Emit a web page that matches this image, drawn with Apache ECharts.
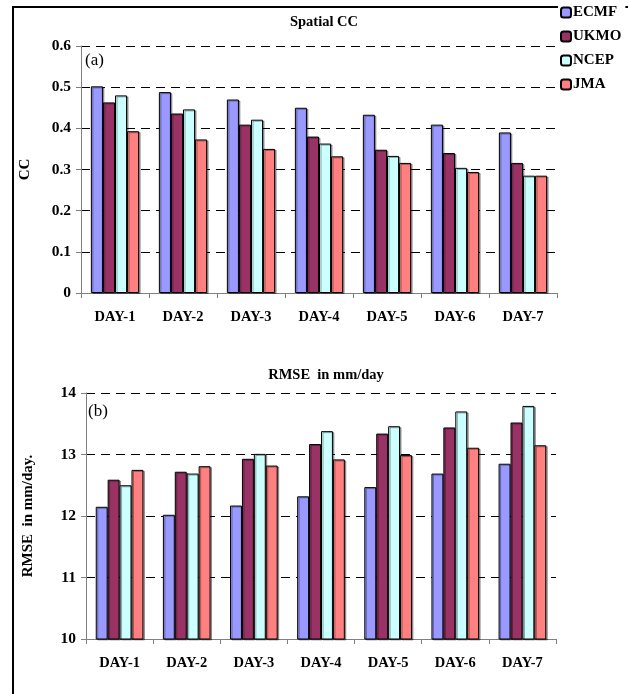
<!DOCTYPE html>
<html><head><meta charset="utf-8">
<script src="https://cdn.jsdelivr.net/npm/echarts@6/dist/echarts.min.js"></script>
<style>html,body{margin:0;padding:0;background:#fff}#c{width:628px;height:694px}</style>
</head><body><div id="c"></div>
<script>
const categories = ['DAY-1','DAY-2','DAY-3','DAY-4','DAY-5','DAY-6','DAY-7'];
const models = ['ECMF','UKMO','NCEP','JMA'];
const colors = ['#9999FF','#993366','#CCFFFF','#FF8080'];
const ccECMF = [0.502,0.488,0.470,0.450,0.433,0.409,0.390];
const ccUKMO = [0.463,0.436,0.409,0.380,0.348,0.340,0.316];
const ccNCEP = [0.480,0.446,0.421,0.363,0.333,0.304,0.285];
const ccJMA  = [0.393,0.373,0.350,0.332,0.316,0.294,0.285];
const rmseECMF = [12.15,12.02,12.17,12.32,12.47,12.69,12.85];
const rmseUKMO = [12.59,12.72,12.93,13.17,13.34,13.44,13.52];
const rmseNCEP = [12.50,12.69,13.01,13.38,13.46,13.70,13.79];
const rmseJMA  = [12.75,12.81,12.82,12.92,12.99,13.11,13.15];
const ccSets = [ccECMF, ccUKMO, ccNCEP, ccJMA];
const rmseSets = [rmseECMF, rmseUKMO, rmseNCEP, rmseJMA];

const FONT = '"Liberation Serif", "Times New Roman", serif';
const chart = echarts.init(document.getElementById('c'));

function xAxis(gi){
  return {type:'category', gridIndex:gi, data:categories, boundaryGap:true,
    axisLine:{lineStyle:{color:'#808080', width:1}},
    axisTick:{show:true, length:5, lineStyle:{color:'#808080'}},
    axisLabel:{color:'#000', fontFamily:FONT, fontWeight:'bold', fontSize:14.5, margin:17}};
}
function yAxis(gi, min, max, interval, name, gap, fmt){
  return {type:'value', gridIndex:gi, min, max, interval, name, nameLocation:'middle', nameGap:gap,
    nameTextStyle:{color:'#000', fontFamily:FONT, fontWeight:'bold', fontSize:15},
    axisLine:{show:true, lineStyle:{color:'#808080', width:1}},
    axisTick:{show:true, length:5, lineStyle:{color:'#808080'}},
    axisLabel:{color:'#000', fontFamily:FONT, fontWeight:'bold', fontSize:15.5, margin:10, formatter:fmt},
    splitLine:{show:true, lineStyle:{color:'#000', type:[9,6], width:1}}};
}
const series = [];
models.forEach((m,i)=>{
  series.push({name:m, type:'bar', xAxisIndex:0, yAxisIndex:0, data:ccSets[i],
    barGap:'0%', barCategoryGap:'29%',
    itemStyle:{color:colors[i], borderColor:'#000', borderWidth:1,
      shadowColor:'rgba(0,0,0,0.35)', shadowOffsetX:1.5, shadowOffsetY:1}});
  series.push({name:m, type:'bar', xAxisIndex:1, yAxisIndex:1, data:rmseSets[i],
    barGap:'0%', barCategoryGap:'29%',
    itemStyle:{color:colors[i], borderColor:'#000', borderWidth:1,
      shadowColor:'rgba(0,0,0,0.35)', shadowOffsetX:1.5, shadowOffsetY:1}});
});

chart.setOption({
  animation:false,
  backgroundColor:'#fff',
  title:[
    {text:'Spatial CC', left:319, top:10, textAlign:'center',
      textStyle:{fontFamily:FONT, fontWeight:'bold', fontSize:14.5, color:'#000'}},
    {text:'RMSE  in mm/day', left:321, top:363, textAlign:'center',
      textStyle:{fontFamily:FONT, fontWeight:'bold', fontSize:14.5, color:'#000'}}
  ],
  legend:{data:models, orient:'vertical', left:558, top:3, itemWidth:10, itemHeight:10, itemGap:9,
    backgroundColor:'#fff', padding:[2,4,2,2],
    textStyle:{fontFamily:FONT, fontWeight:'bold', fontSize:15, color:'#000', padding:[0,0,0,-3]}},
  grid:[
    {left:81, top:46, width:476, height:247},
    {left:86, top:393, width:470, height:246}
  ],
  xAxis:[xAxis(0), xAxis(1)],
  yAxis:[
    yAxis(0, 0, 0.6, 0.1, 'CC', 48, v=>v===0?'0':v.toFixed(1)),
    yAxis(1, 10, 14, 1, 'RMSE  in mm/day.', 50, v=>String(v))
  ],
  series,
  graphic:[
    {type:'rect', z:-1, shape:{x:13, y:7, width:700, height:800}, style:{fill:null, stroke:'#000', lineWidth:2}},
    {type:'text', left:85, top:52, style:{text:'(a)', font:'17px "Liberation Serif", serif', fill:'#000'}},
    {type:'text', left:88, top:403, style:{text:'(b)', font:'17px "Liberation Serif", serif', fill:'#000'}}
  ]
});
</script></body></html>
